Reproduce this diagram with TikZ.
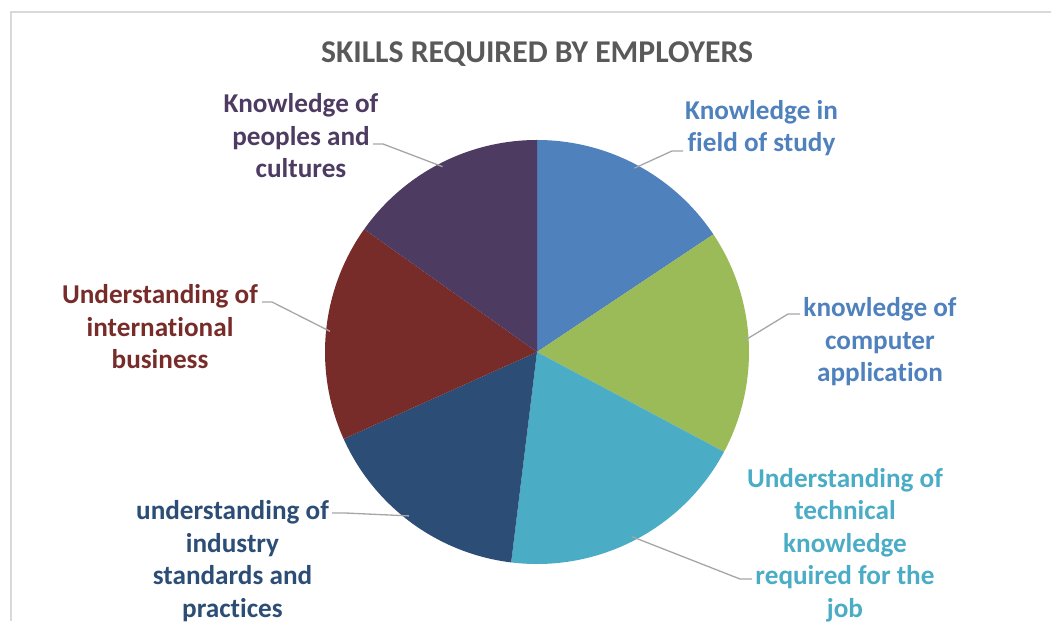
\documentclass[tikz,border=0pt]{standalone}
\usepackage{fontspec}
\setmainfont{Carlito}[Ligatures={NoCommon}]

\definecolor{fieldBlue}{HTML}{4F81BD}
\definecolor{compGreen}{HTML}{9BBB59}
\definecolor{techTeal}{HTML}{4BACC6}
\definecolor{indNavy}{HTML}{2C4D75}
\definecolor{busRed}{HTML}{772C2A}
\definecolor{peopPurple}{HTML}{4D3B62}
\definecolor{titleGray}{HTML}{595959}
\definecolor{leaderGray}{HTML}{A6A6A6}
\definecolor{frameGray}{HTML}{D9D9D9}

\newcommand{\pieX}{537}
\newcommand{\pieY}{269}
\newcommand{\pieR}{212}
\newcommand{\leaderR}{208}
\newcommand{\fieldStart}{90}
\newcommand{\compStart}{33.7}
\newcommand{\techStart}{-28.1}
\newcommand{\indStart}{-97}
\newcommand{\busStart}{-155.8}
\newcommand{\peopStart}{-215.4}
\newcommand{\peopEnd}{-270}

\tikzset{
  label/.style={align=center, inner sep=0pt, font=\fontsize{27.2}{32.5}\selectfont\bfseries},
  leader/.style={draw=leaderGray, line width=1.3pt},
}

\begin{document}
\begin{tikzpicture}[x=1pt, y=1pt]
        \useasboundingbox (0,0) rectangle (1051,621);

        % Chart frame
        \draw [frameGray, line width=1.5pt] (11,0) -- (11,609) -- (1051,609);

        % Title
        \node [font=\fontsize{31.7}{36}\selectfont\bfseries, text=titleGray] (title) at (\pieX,567) {SKILLS REQUIRED BY EMPLOYERS};

        % Slices
        \coordinate (pie) at (\pieX,\pieY);
        \fill [fieldBlue] (pie) -- ++(\fieldStart:\pieR) arc [start angle=\fieldStart, end angle=\compStart, radius=\pieR] -- cycle;
        \fill [compGreen] (pie) -- ++(\compStart:\pieR) arc [start angle=\compStart, end angle=\techStart, radius=\pieR] -- cycle;
        \fill [techTeal] (pie) -- ++(\techStart:\pieR) arc [start angle=\techStart, end angle=\indStart, radius=\pieR] -- cycle;
        \fill [indNavy] (pie) -- ++(\indStart:\pieR) arc [start angle=\indStart, end angle=\busStart, radius=\pieR] -- cycle;
        \fill [busRed] (pie) -- ++(\busStart:\pieR) arc [start angle=\busStart, end angle=\peopStart, radius=\pieR] -- cycle;
        \fill [peopPurple] (pie) -- ++(\peopStart:\pieR) arc [start angle=\peopStart, end angle=\peopEnd, radius=\pieR] -- cycle;

        % Labels
        \node [label, text=fieldBlue] (field) at (761.5,493) {Knowledge in\\field of study};
        \node [label, text=fieldBlue] (comp) at (880,279) {knowledge of\\computer\\application};
        \node [label, text=techTeal] (tech) at (845,76) {Understanding of\\technical\\knowledge\\required for the\\job};
        \node [label, text=indNavy] (ind) at (232.5,60) {understanding of\\industry\\standards and\\practices};
        \node [label, text=busRed] (bus) at (160,294) {Understanding of\\international\\business};
        \node [label, text=peopPurple] (peop) at (301,485) {Knowledge of\\peoples and\\cultures};

        % Leader lines
        \coordinate (fieldA) at (683,470);
        \coordinate (fieldB) at (672,470);
        \coordinate (fieldC) at ([shift={(62.1:\leaderR)}]pie);
        \draw [leader] (fieldA) -- (fieldB) -- (fieldC);

        \coordinate (compA) at (800,307);
        \coordinate (compB) at (788,307);
        \coordinate (compC) at ([shift={(3.2:\leaderR)}]pie);
        \draw [leader] (compA) -- (compB) -- (compC);

        \coordinate (techA) at (752,42);
        \coordinate (techB) at (740,42);
        \coordinate (techC) at ([shift={(-62.7:\leaderR)}]pie);
        \draw [leader] (techA) -- (techB) -- (techC);

        \coordinate (indA) at (332,108);
        \coordinate (indB) at (345,108);
        \coordinate (indC) at ([shift={(232:\leaderR)}]pie);
        \draw [leader] (indA) -- (indB) -- (indC);

        \coordinate (busA) at (262,319);
        \coordinate (busB) at (272,319);
        \coordinate (busC) at ([shift={(174.3:\leaderR)}]pie);
        \draw [leader] (busA) -- (busB) -- (busC);

        \coordinate (peopA) at (373,477);
        \coordinate (peopB) at (383,477);
        \coordinate (peopC) at ([shift={(117:\leaderR)}]pie);
        \draw [leader] (peopA) -- (peopB) -- (peopC);
    \end{tikzpicture}
\end{document}
